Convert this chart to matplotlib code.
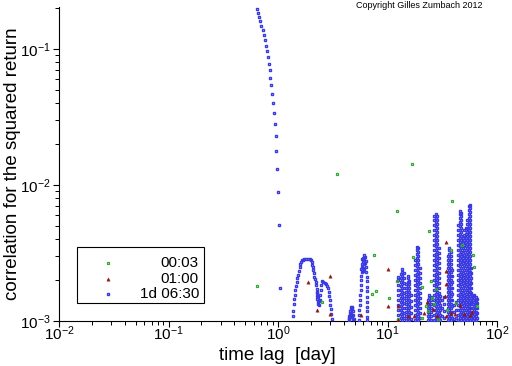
import matplotlib
matplotlib.use("Agg")
import matplotlib.pyplot as plt
from matplotlib import font_manager as fm
from matplotlib.patches import Rectangle
from matplotlib.ticker import LogLocator, NullFormatter, LogFormatterSciNotation

# ---------------- data ----------------
# 00:03 series (green squares)
green_x = [0.647, 2.51, 3.48, 7.26, 7.58, 7.90, 10.38, 12.13, 12.29, 12.55, 16.85, 17.21, 20.65, 20.79,
           22.7, 23.6, 24.08, 25.12, 25.33, 26.75, 28.0, 29.1, 34.7, 38.4, 39.06, 41.8, 48.2, 61.0, 61.5, 65.9]
green_y = [0.00180, 0.00137, 0.0120, 0.00157, 0.00304, 0.00165, 0.00147, 0.00196, 0.00641, 0.00103, 0.0142,
           0.00294, 0.00105, 0.00177, 0.00128, 0.00119, 0.00457, 0.00196, 0.00147, 0.00133, 0.00171, 0.00103,
           0.00121, 0.00333, 0.00759, 0.00135, 0.00360, 0.00304, 0.00248, 0.00129]

# 01:00 series (dark red triangles)
red_x = [1.891, 2.286, 3.003, 3.003, 5.67, 10.21, 10.21, 12.55, 12.55, 15.39, 17.46, 21.54, 23.09, 26.2,
         28.14, 33.86, 33.86, 33.86, 33.5, 34.2, 38.24, 41.35, 46.12, 49.95, 57.04, 58.74]
red_y = [0.00195, 0.00120, 0.00213, 0.00112, 0.00110, 0.00240, 0.00129, 0.00129, 0.00102, 0.00109, 0.00109,
         0.00114, 0.00137, 0.00123, 0.00109, 0.00381, 0.00232, 0.00186, 0.00153, 0.00108, 0.00114, 0.00113,
         0.00132, 0.00113, 0.00111, 0.00117]

# 1d 06:30 series (blue squares)
blue_fall_x = [0.643, 0.657, 0.671, 0.685, 0.699, 0.729, 0.745, 0.761, 0.777, 0.793, 0.810, 0.828, 0.845,
               0.845, 0.863, 0.882, 0.900, 0.919, 0.939, 0.959, 0.959, 0.979, 1.000, 1.021, 1.043]
blue_fall_y = [0.197, 0.184, 0.172, 0.161, 0.148, 0.138, 0.127, 0.116, 0.105, 0.0967, 0.0874, 0.0776, 0.0701,
               0.0612, 0.0544, 0.0467, 0.0401, 0.0338, 0.0281, 0.0229, 0.0178, 0.0131, 0.00888, 0.00508, 0.00175]

blue_hump_x = [1.379, 1.379, 1.409, 1.409, 1.439, 1.439, 1.469, 1.501, 1.501, 1.532, 1.565, 1.598, 1.598,
               1.633, 1.667, 1.702, 1.739, 1.813, 1.891, 1.972, 2.014, 2.057, 2.057, 2.101, 2.101, 2.146,
               2.146, 2.191, 2.223, 2.223, 2.247, 2.270, 2.270, 2.294, 2.319, 2.343, 2.368, 2.343, 2.393,
               2.294, 2.418, 2.444, 2.470, 2.486, 2.507, 2.592, 2.687, 2.744, 2.802, 2.861, 2.922, 2.922,
               2.985, 2.985, 3.048, 3.048, 3.093]
blue_hump_y_e3 = [1.088, 1.184, 1.334, 1.444, 1.553, 1.690, 1.808, 1.935, 2.061, 2.179, 2.343, 2.508, 2.625,
                  2.729, 2.795, 2.823, 2.846, 2.857, 2.873, 2.857, 2.809, 2.715, 2.594, 2.483, 2.371, 2.243,
                  2.117, 2.026, 1.935, 1.839, 1.719, 1.634, 1.527, 1.451, 1.379, 1.334, 1.311, 1.501, 1.403,
                  1.606, 1.427, 1.553, 1.690, 1.839, 1.968, 1.945, 1.913, 1.871, 1.808, 1.739, 1.642, 1.527,
                  1.427, 1.311, 1.219, 1.126, 1.034]

blue_mid_x = [4.404, 4.450, 4.497, 4.545, 4.592, 4.641, 4.690, 4.740, 4.790, 4.840, 4.891, 4.943, 4.497,
              4.592, 4.690, 4.790, 4.840,
              5.491, 5.491, 5.549, 5.608, 5.608, 5.667, 5.728, 5.728, 5.728, 5.764, 5.812, 5.874, 5.935,
              6.012, 6.139, 6.230, 6.324, 6.363, 6.430, 6.457, 6.457, 6.457, 6.526, 6.539, 6.539, 6.539,
              6.539, 6.539, 6.539,
              5.849, 5.911, 5.974, 6.037, 6.101, 6.165, 6.230, 5.974, 6.101, 5.788]
blue_mid_y_e3 = [1.017, 1.052, 1.088, 1.145, 1.184, 1.225, 1.268, 1.268, 1.246, 1.184, 1.107, 1.034, 1.034,
                 1.070, 1.126, 1.088, 1.034,
                 1.017, 1.107, 1.205, 1.311, 1.427, 1.553, 1.690, 1.839, 2.002, 2.142, 2.292, 2.495, 2.715,
                 2.930, 3.057, 2.980, 2.739, 2.516, 2.312, 2.124, 1.952, 1.793, 1.648, 1.514, 1.391, 1.278,
                 1.175, 1.079, 1.017,
                 2.857, 2.625, 2.453, 2.809, 2.625, 2.905, 2.670, 2.331, 2.412, 2.412]

# dense part: one lag position per entry, with the values stacked at that lag (units of 1e-3)
blue_col_x = [12.60, 13.15, 13.57, 14.00, 14.91, 15.39, 15.88, 16.32, 17.94, 18.59, 19.19, 19.81, 23.19,
              23.93, 24.70, 26.76, 27.61, 28.44, 29.23, 30.17, 31.46, 32.81, 35.53, 36.67, 37.84, 38.97,
              40.48, 42.22, 44.31, 45.73, 47.20, 48.71, 50.27, 51.88, 53.43, 55.04, 56.67, 58.36, 60.35,
              62.29, 64.29, 66.35]
blue_col_y_e3 = [
    [1.02, 1.11, 1.21, 1.31, 1.43, 1.55, 1.69, 1.84, 2.00, 2.11],
    [1.05, 1.13, 1.21, 1.29, 1.38, 1.48, 1.58, 1.69, 1.81, 1.94, 2.07, 2.22],
    [1.02, 1.09, 1.17, 1.25, 1.33, 1.43, 1.53, 1.63, 1.75, 1.87, 2.00, 2.14, 2.29, 2.41],
    [1.05, 1.15, 1.25, 1.36, 1.48, 1.61, 1.75, 1.90, 2.07, 2.25],
    [1.02, 1.09, 1.17, 1.25, 1.33, 1.43, 1.53, 1.63, 1.75, 1.87],
    [1.05, 1.13, 1.21, 1.29, 1.38, 1.48, 1.58, 1.69, 1.81, 1.94, 2.07, 2.14],
    [1.02, 1.09, 1.17, 1.25, 1.33, 1.43, 1.53, 1.63, 1.75, 1.87, 1.97],
    [1.03, 1.15, 1.27, 1.40, 1.55],
    [1.02, 1.11, 1.21, 1.31, 1.43, 1.55, 1.69, 1.84, 2.00, 2.18, 2.37, 2.58, 2.81],
    [1.05, 1.13, 1.21, 1.29, 1.38, 1.48, 1.58, 1.69, 1.81, 1.94, 2.07, 2.22, 2.37, 2.54, 2.72, 2.91, 3.11,
     3.33, 3.50],
    [1.02, 1.09, 1.17, 1.25, 1.33, 1.43, 1.53, 1.63, 1.75, 1.87, 2.00, 2.14, 2.29, 2.45, 2.63, 2.81, 3.01,
     3.22, 3.44],
    [1.05, 1.15, 1.25, 1.36, 1.48, 1.61, 1.75, 1.90, 2.07, 2.25, 2.45],
    [1.02, 1.09, 1.17, 1.25, 1.33, 1.43],
    [1.05, 1.13, 1.21, 1.29, 1.38, 1.48, 1.55],
    [1.02, 1.09, 1.17, 1.25, 1.33, 1.43, 1.50],
    [1.02, 1.11, 1.21, 1.31, 1.43, 1.55, 1.69, 1.84, 2.00, 2.18, 2.37, 2.58, 2.81, 3.06, 3.33, 3.62, 3.94,
     4.29, 4.67, 5.08, 5.53, 5.92],
    [1.05, 1.13, 1.21, 1.29, 1.38, 1.48, 1.58, 1.69, 1.81, 1.94, 2.07, 2.22, 2.37, 2.54, 2.72, 2.91, 3.11,
     3.33, 3.56, 3.81, 4.08, 4.36, 4.67, 4.99, 5.34, 5.72, 6.12],
    [1.02, 1.09, 1.17, 1.25, 1.33, 1.43, 1.53, 1.63, 1.75, 1.87, 2.00, 2.14, 2.29, 2.45, 2.63, 2.81, 3.01,
     3.22, 3.44, 3.68, 3.94, 4.22, 4.51, 4.83, 5.17, 5.53, 5.92],
    [1.05, 1.15, 1.25, 1.36, 1.48, 1.61, 1.75, 1.90, 2.07, 2.25, 2.45, 2.67, 2.91, 3.16, 3.44],
    [1.02, 1.11, 1.21, 1.31, 1.43, 1.53],
    [1.09, 1.25, 1.43],
    [1.05, 1.18, 1.33, 1.50],
    [1.02, 1.09, 1.17, 1.25, 1.33, 1.43, 1.53, 1.63, 1.75, 1.87, 2.00, 2.14, 2.29, 2.45, 2.63, 2.81, 3.01],
    [1.05, 1.13, 1.21, 1.29, 1.38, 1.48, 1.58, 1.69, 1.81, 1.94, 2.07, 2.22, 2.37, 2.54, 2.72, 2.91, 3.11,
     3.33, 3.44],
    [1.02, 1.09, 1.17, 1.25, 1.33, 1.43, 1.53, 1.63, 1.75, 1.87, 2.00, 2.14, 2.29, 2.45, 2.63, 2.81, 3.01,
     3.22],
    [1.05, 1.17, 1.29, 1.43, 1.58, 1.75, 1.94, 2.14, 2.37],
    [1.03, 1.17, 1.31],
    [1.05, 1.21, 1.38],
    [1.02, 1.11, 1.21, 1.31, 1.43, 1.55, 1.69, 1.84, 2.00, 2.18, 2.37, 2.58, 2.81, 3.06, 3.33, 3.62, 3.94,
     4.29, 4.67, 5.08],
    [1.05, 1.13, 1.21, 1.29, 1.38, 1.48, 1.58, 1.69, 1.81, 1.94, 2.07, 2.22, 2.37, 2.54, 2.72, 2.91, 3.11,
     3.33, 3.56, 3.81, 4.08, 4.36, 4.67, 4.99, 5.34, 5.72, 6.12, 6.44],
    [1.02, 1.09, 1.17, 1.25, 1.33, 1.43, 1.53, 1.63, 1.75, 1.87, 2.00, 2.14, 2.29, 2.45, 2.63, 2.81, 3.01,
     3.22, 3.44, 3.68, 3.94, 4.22, 4.51, 4.83, 5.17, 5.53, 5.92, 6.22],
    [1.05, 1.15, 1.25, 1.36, 1.48, 1.61, 1.75, 1.90, 2.07, 2.25, 2.45, 2.67, 2.91, 3.16, 3.44, 3.75, 4.08],
    [1.02, 1.11, 1.21, 1.31, 1.43, 1.55, 1.69, 1.84, 2.00, 2.18, 2.37, 2.58, 2.81, 3.06, 3.33, 3.62, 3.94,
     4.29, 4.67],
    [1.05, 1.13, 1.21, 1.29, 1.38, 1.48, 1.58, 1.69, 1.81, 1.94, 2.07, 2.22, 2.37, 2.54, 2.72, 2.91, 3.11,
     3.33, 3.56, 3.81, 4.08, 4.36, 4.67, 4.83],
    [1.02, 1.09, 1.17, 1.25, 1.33, 1.43, 1.53, 1.63, 1.75, 1.87, 2.00, 2.14, 2.29, 2.45, 2.63, 2.81, 3.01,
     3.22, 3.44, 3.68, 3.94, 4.22, 4.51, 4.83, 5.17, 5.53],
    [1.05, 1.13, 1.21, 1.29, 1.38, 1.48, 1.58, 1.69, 1.81, 1.94, 2.07, 2.22, 2.37, 2.54, 2.72, 2.91, 3.11,
     3.33, 3.56, 3.81, 4.08, 4.36, 4.67, 4.99, 5.34, 5.72, 6.12, 6.55, 7.01],
    [1.02, 1.09, 1.17, 1.25, 1.33, 1.43, 1.53, 1.63, 1.75, 1.87, 2.00, 2.14, 2.29, 2.45, 2.63, 2.81, 3.01,
     3.22, 3.44, 3.68, 3.94, 4.22, 4.51, 4.83, 5.17, 5.53, 5.92, 6.33, 6.77, 7.13],
    [1.05, 1.15, 1.25, 1.36, 1.48, 1.61, 1.75, 1.90, 2.07, 2.25, 2.45],
    [1.02, 1.09, 1.17, 1.25, 1.33, 1.43, 1.53],
    [1.05, 1.13, 1.21, 1.29, 1.38, 1.48, 1.55],
    [1.02, 1.09, 1.17, 1.25, 1.33, 1.43, 1.50],
    [1.05, 1.15, 1.25, 1.36, 1.45],
]

legend_labels = ["00:03", "01:00", "1d 06:30"]
x_label = "time lag  [day]"
y_label = "correlation for the squared return"
copyright_text = "Copyright Gilles Zumbach 2012"

# ---------------- assemble blue series ----------------
blue_x = list(blue_fall_x) + list(blue_hump_x) + list(blue_mid_x)
blue_y = list(blue_fall_y) + [v * 1e-3 for v in blue_hump_y_e3] + [v * 1e-3 for v in blue_mid_y_e3]
for cx, cys in zip(blue_col_x, blue_col_y_e3):
    blue_x += [cx] * len(cys)
    blue_y += [v * 1e-3 for v in cys]

# ---------------- fonts ----------------
def has_font(name):
    try:
        fm.findfont(fm.FontProperties(family=name), fallback_to_default=False)
        return True
    except Exception:
        return False

main_font = "Liberation Sans"
narrow_font = "Liberation Sans Narrow" if has_font("Liberation Sans Narrow") else "Liberation Sans"
plt.rcParams["font.family"] = [main_font, "DejaVu Sans"]
plt.rcParams["mathtext.fontset"] = "custom"
plt.rcParams["mathtext.rm"] = narrow_font
plt.rcParams["mathtext.it"] = narrow_font
plt.rcParams["mathtext.bf"] = narrow_font

BLUE = "#3a3ae0"
GREEN = "#33a833"
RED = "#8e1818"

fig = plt.figure(figsize=(5.12, 3.66), dpi=100)
ax = fig.add_axes([59 / 512, 1 - 321 / 366, 438 / 512, 314 / 366])

ax.plot(blue_x, blue_y, ls="none", marker="s", ms=2.0, mfc="none", mec=BLUE, mew=1.0, zorder=3)
ax.plot(green_x, green_y, ls="none", marker="s", ms=2.0, mfc="none", mec=GREEN, mew=0.9, zorder=4)
ax.plot(red_x, red_y, ls="none", marker="^", ms=2.4, mfc=RED, mec=RED, mew=0.3, zorder=4)

ax.set_xscale("log")
ax.set_yscale("log")
ax.set_xlim(1e-2, 1e2)
ax.set_ylim(1e-3, 0.2037)

for s in ("top", "right"):
    ax.spines[s].set_visible(False)
for s in ("left", "bottom"):
    ax.spines[s].set_linewidth(0.8)

ax.xaxis.set_major_locator(LogLocator(base=10, numticks=10))
ax.yaxis.set_major_locator(LogLocator(base=10, numticks=10))
ax.xaxis.set_minor_locator(LogLocator(base=10, subs=range(2, 10), numticks=20))
ax.yaxis.set_minor_locator(LogLocator(base=10, subs=range(2, 10), numticks=20))
ax.xaxis.set_major_formatter(LogFormatterSciNotation())
ax.yaxis.set_major_formatter(LogFormatterSciNotation())
ax.xaxis.set_minor_formatter(NullFormatter())
ax.yaxis.set_minor_formatter(NullFormatter())

ax.tick_params(axis="both", which="major", direction="out", length=4.3, width=0.8,
               labelsize=11, labelfontfamily=narrow_font)
ax.tick_params(axis="both", which="minor", direction="out", length=2.6, width=0.7)
ax.tick_params(axis="x", which="major", pad=-1.5)
ax.tick_params(axis="y", which="major", pad=2)

ax.set_xlabel(x_label, fontsize=13.5)
ax.set_ylabel(y_label, fontsize=13.5)
ax.xaxis.set_label_coords(0.499, -0.083)
ax.xaxis.label.set_va("top")
ax.yaxis.set_label_coords(-0.087, 0.5)

# legend box drawn by hand (right-aligned labels like the reference)
ax.add_patch(Rectangle((0.0411, 0.0573), 0.2900, 0.1784, transform=ax.transAxes,
                       facecolor="white", edgecolor="black", lw=0.8, zorder=6, clip_on=False))
leg_rows = [0.1847, 0.1338, 0.0860]
leg_styles = [dict(marker="s", ms=2.0, mfc="none", mec=GREEN, mew=0.9),
              dict(marker="^", ms=2.4, mfc=RED, mec=RED, mew=0.3),
              dict(marker="s", ms=2.0, mfc="none", mec=BLUE, mew=1.0)]
for yy, lab, st in zip(leg_rows, legend_labels, leg_styles):
    ax.plot([0.1119], [yy], ls="none", transform=ax.transAxes, zorder=7, clip_on=False, **st)
    ax.text(0.3196, yy, lab, transform=ax.transAxes, ha="right", va="center",
            fontsize=11, family=[narrow_font, "DejaVu Sans"], zorder=7)

fig.text(419.5 / 512, 1 - 5 / 366, copyright_text, ha="center", va="center",
         fontsize=6.5, family=[narrow_font, "DejaVu Sans"])

fig.savefig("out.png", dpi=100)
